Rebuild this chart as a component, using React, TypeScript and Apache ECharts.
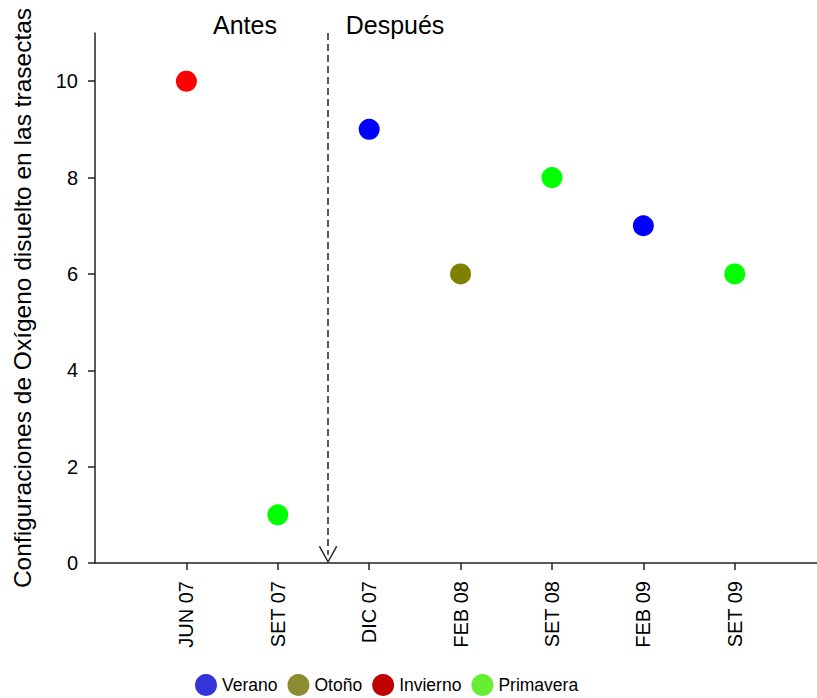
import React, { useEffect, useRef } from "react";
import * as echarts from "echarts";

const categories = ["JUN 07", "SET 07", "DIC 07", "FEB 08", "SET 08", "FEB 09", "SET 09"];
const values = [10, 1, 9, 6, 8, 7, 6];
const seasonOfPoint = ["Invierno", "Primavera", "Verano", "Otoño", "Primavera", "Verano", "Primavera"];
const seasonNames = ["Verano", "Otoño", "Invierno", "Primavera"];
const markerColors = ["#0000ff", "#808000", "#ff0000", "#00ff00"];
const legendColors = ["#3434d8", "#8c8c30", "#c00000", "#66ee33"];
const yTicks = [0, 2, 4, 6, 8, 10];
const breakPosition = 2.55;

const FONT = "'Liberation Sans', Arial, Helvetica, sans-serif";

export default function App() {
  const ref = useRef<HTMLDivElement>(null);
  useEffect(() => {
    if (!ref.current) return;
    const chart = echarts.init(ref.current, null, { renderer: "svg" });
    const xPositions = categories.map((_, i) => i + 1);

    const series: any[] = seasonNames.map((s, si) => ({
      name: s,
      type: "scatter",
      symbol: "circle",
      symbolSize: 21,
      itemStyle: { color: markerColors[si], opacity: 1 },
      data: values
        .map((v, i) => ({ v, i }))
        .filter((d) => seasonOfPoint[d.i] === s)
        .map((d) => [xPositions[d.i], d.v]),
    }));

    series.push({
      name: "divider",
      type: "scatter",
      data: [],
      markLine: {
        silent: true,
        animation: false,
        label: { show: false },
        lineStyle: { color: "#222", width: 1.5, type: [7, 4] },
        data: [
          [
            { coord: [breakPosition, 11], symbol: "none" },
            {
              coord: [breakPosition, 0.17],
              symbol: "path://M0,16 L9,0 L18,16 L16.4,16 L9,2.6 L1.6,16 Z",
              symbolSize: [19, 17],
            },
          ],
        ],
      },
    });

    chart.setOption({
      animation: false,
      textStyle: { fontFamily: FONT },
      grid: { left: 95, right: 0, top: 33, bottom: 135 },
      xAxis: {
        type: "value",
        min: 0,
        max: 7.9,
        splitLine: { show: false },
        axisLine: { show: true, lineStyle: { color: "#222", width: 1.5 } },
        axisTick: {
          show: true,
          length: 7,
          customValues: xPositions,
          lineStyle: { color: "#222", width: 1.5 },
        },
        axisLabel: {
          customValues: xPositions,
          rotate: 90,
          margin: 18,
          fontSize: 20,
          color: "#000",
          fontFamily: FONT,
          formatter: (v: number) => categories[Math.round(v) - 1] ?? "",
        },
      },
      yAxis: {
        type: "value",
        min: 0,
        max: 11,
        interval: 2,
        name: "Configuraciones de Oxígeno disuelto en las trasectas",
        nameLocation: "middle",
        nameGap: 60,
        nameTextStyle: { fontSize: 24.5, color: "#000", fontFamily: FONT },
        splitLine: { show: false },
        axisLine: { show: true, lineStyle: { color: "#222", width: 1.5 } },
        axisTick: {
          show: true,
          length: 7,
          customValues: yTicks,
          lineStyle: { color: "#222", width: 1.5 },
        },
        axisLabel: {
          customValues: yTicks,
          margin: 17,
          fontSize: 20,
          color: "#000",
          fontFamily: FONT,
        },
      },
      legend: {
        left: 190,
        top: 669,
        icon: "circle",
        itemWidth: 22,
        itemHeight: 22,
        itemGap: 10,
        textStyle: { fontSize: 17.5, color: "#000", fontFamily: FONT },
        data: seasonNames.map((s, i) => ({ name: s, itemStyle: { color: legendColors[i] } })),
      },
      graphic: [
        {
          type: "text",
          x: 245,
          y: 25,
          style: { text: "Antes", fontSize: 25, fill: "#000", fontFamily: FONT, align: "center", verticalAlign: "middle" },
        },
        {
          type: "text",
          x: 395,
          y: 25,
          style: { text: "Después", fontSize: 25, fill: "#000", fontFamily: FONT, align: "center", verticalAlign: "middle" },
        },
      ],
      series,
    });
    return () => chart.dispose();
  }, []);
  return <div ref={ref} style={{ position: "absolute", left: 0, top: 0, width: 817, height: 698 }} />;
}
